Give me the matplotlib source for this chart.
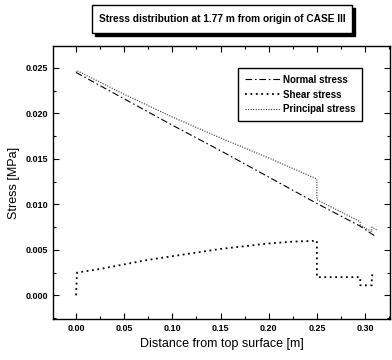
import matplotlib
matplotlib.use('Agg')
import matplotlib.pyplot as plt
from matplotlib.ticker import MultipleLocator
from matplotlib.patches import Rectangle

plt.rcParams['font.family'] = ['Liberation Sans Narrow', 'Liberation Sans', 'DejaVu Sans']

# data
normal_x = [0.0, 0.05, 0.10, 0.15, 0.20, 0.25, 0.295, 0.312]
normal_y = [0.0245, 0.0216, 0.0187, 0.0159, 0.0130, 0.0101, 0.0076, 0.0064]

shear_x = [0.0, 0.001, 0.025, 0.05, 0.075, 0.10, 0.125, 0.15, 0.175, 0.20, 0.225, 0.25,
           0.2501, 0.295, 0.2951, 0.307, 0.3071, 0.312]
shear_y = [0.0, 0.0025, 0.0029, 0.0034, 0.0039, 0.0043, 0.0047, 0.0051, 0.0054, 0.0057, 0.0059, 0.0060,
           0.0020, 0.0020, 0.0011, 0.0011, 0.0022, 0.0022]

principal_x = [0.0, 0.001, 0.05, 0.10, 0.15, 0.20, 0.25, 0.2501, 0.295, 0.2951, 0.307, 0.3071, 0.312]
principal_y = [0.0245, 0.0247, 0.0221, 0.0196, 0.0173, 0.0151, 0.0128, 0.0105, 0.0081, 0.0077, 0.0070, 0.0075, 0.0072]

title = 'Stress distribution at 1.77 m from origin of CASE III'

W, H = 392, 360
fig = plt.figure(figsize=(3.92, 3.6), dpi=100)
ax = fig.add_axes([0.135, 0.114, 0.86, 0.758])

ax.plot(normal_x, normal_y, color='black', lw=0.8, linestyle=(0, (6, 2.5, 1.5, 2.5)), label='Normal stress')
ax.plot(shear_x, shear_y, color='black', lw=1.3, linestyle=(0, (1, 2)), label='Shear stress')
ax.plot(principal_x, principal_y, color='#333333', lw=0.8, linestyle=(0, (1, 1.3)), label='Principal stress')

ax.set_xlim(-0.024, 0.326)
ax.set_ylim(-0.0026, 0.0274)
ax.xaxis.set_major_locator(MultipleLocator(0.05))
ax.xaxis.set_minor_locator(MultipleLocator(0.025))
ax.yaxis.set_major_locator(MultipleLocator(0.005))
ax.yaxis.set_minor_locator(MultipleLocator(0.0025))
ax.xaxis.set_major_formatter(plt.FuncFormatter(lambda v, p: '%.2f' % v))
ax.yaxis.set_major_formatter(plt.FuncFormatter(lambda v, p: '%.3f' % v))
ax.tick_params(which='both', direction='in', top=True, right=True, labelsize=6.5, width=0.8)
ax.tick_params(which='major', length=4)
ax.tick_params(which='minor', length=2)
for lab in ax.get_xticklabels() + ax.get_yticklabels():
    lab.set_fontweight('bold')
for s in ax.spines.values():
    s.set_linewidth(1.0)

ax.set_xlabel('Distance from top surface [m]', fontsize=9)
ax.set_ylabel('Stress [MPa]', fontsize=9)

leg = ax.legend(loc='upper right', bbox_to_anchor=(0.932, 0.938), fontsize=7, fancybox=False,
                edgecolor='black', framealpha=1, handlelength=3.6, handletextpad=0.3,
                borderpad=0.7, labelspacing=0.5)
leg.get_frame().set_linewidth(1.0)
for t in leg.get_texts():
    t.set_fontweight('bold')

# title box with a drop shadow
fig.patches.append(Rectangle((95 / W, 1 - 36 / H), 260 / W, 28 / H, transform=fig.transFigure,
                             facecolor='black', edgecolor='black', lw=1))
fig.patches.append(Rectangle((92 / W, 1 - 33 / H), 260 / W, 28 / H, transform=fig.transFigure,
                             facecolor='white', edgecolor='black', lw=1))
fig.text(222 / W, 1 - 19 / H, title, ha='center', va='center', fontsize=7.3, fontweight='bold')

fig.savefig('out.png', dpi=100)
